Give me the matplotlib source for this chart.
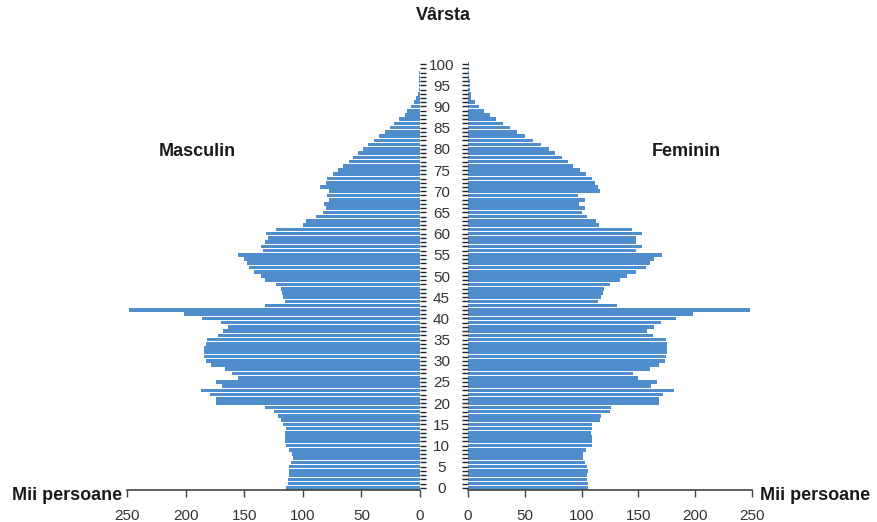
import matplotlib
matplotlib.use('Agg')
import matplotlib.pyplot as plt
from matplotlib import rcParams

# population by single year of age, thousands
ages = list(range(101))
male = [114, 113, 113, 112, 112, 112, 110, 108, 109, 112,
        114, 115, 115, 115, 114, 117, 119, 121, 125, 132,
        174, 174, 179, 187, 169, 174, 155, 160, 166, 178,
        183, 184, 184, 184, 183, 182, 172, 168, 164, 170,
        186, 201, 248, 132, 115, 117, 118, 119, 123, 132,
        136, 142, 146, 148, 150, 155, 134, 136, 132, 130,
        131, 123, 100, 97, 89, 83, 80, 82, 78, 79,
        78, 85, 80, 79, 74, 70, 66, 61, 57, 53,
        49, 44, 39, 35, 30, 26, 22, 18, 13, 11,
        8, 5, 3, 1.5, 1.2, 1.0, 0.8, 0.6, 0.5, 0.4, 0.3]
female = [106, 106, 105, 105, 106, 105, 103, 101, 101, 104,
          109, 109, 109, 108, 109, 109, 116, 117, 125, 126,
          168, 168, 172, 181, 161, 166, 150, 145, 160, 168,
          173, 174, 175, 175, 175, 174, 163, 158, 164, 170,
          183, 198, 248, 131, 114, 117, 119, 120, 125, 134,
          140, 148, 157, 160, 164, 171, 148, 153, 148, 148,
          153, 144, 115, 113, 105, 100, 103, 98, 103, 97,
          116, 114, 112, 109, 104, 99, 92, 88, 83, 77,
          71, 64, 57, 50, 43, 37, 31, 25, 19, 14,
          10, 6, 3, 2.5, 2.0, 1.8, 1.5, 1.2, 1.0, 0.8, 0.6]
age_ticks = list(range(0, 101, 5))
x_ticks = [0, 50, 100, 150, 200, 250]

BAR_COLOR = '#4f8dcc'
TEXT_COLOR = '#333333'
W, H = 878, 522


def setup():
    rcParams['font.family'] = ['Liberation Sans', 'DejaVu Sans']
    rcParams['axes.linewidth'] = 1.2


def style_axis(ax):
    for side in ['top', 'left', 'right']:
        ax.spines[side].set_visible(False)
    ax.spines['bottom'].set_color('#444444')
    ax.set_ylim(-0.5, 100.5)
    ax.set_xticks(x_ticks)
    ax.tick_params(axis='x', direction='out', length=5, width=1,
                   color='#444444', labelsize=11, labelcolor=TEXT_COLOR, pad=9)


def main():
    setup()
    fig = plt.figure(figsize=(W / 100, H / 100), dpi=100)
    bottom = (H - 490) / H
    height = (490 - 62) / H
    ax_l = fig.add_axes([127 / W, bottom, (420 - 127) / W, height])
    ax_r = fig.add_axes([468 / W, bottom, (752 - 468) / W, height])

    ax_l.barh(ages, male, height=0.85, color=BAR_COLOR, linewidth=0)
    ax_r.barh(ages, female, height=0.85, color=BAR_COLOR, linewidth=0)
    ax_l.set_xlim(250, 0)
    ax_r.set_xlim(0, 250)
    style_axis(ax_l)
    style_axis(ax_r)

    # small ticks for every year along both inner edges
    ax_l.yaxis.tick_right()
    ax_l.set_yticks(ages)
    ax_l.tick_params(axis='y', direction='out', length=4, width=1,
                     color='#222222', labelright=False)

    ax_r.set_yticks(ages, minor=True)
    ax_r.set_yticks(age_ticks)
    ax_r.set_yticklabels([str(a) for a in age_ticks])
    ax_r.tick_params(axis='y', which='both', direction='out', length=4,
                     width=1, color='#222222')
    ax_r.tick_params(axis='y', which='major', labelsize=11,
                     labelcolor=TEXT_COLOR, pad=15)
    for lab in ax_r.get_yticklabels():
        lab.set_horizontalalignment('center')

    bold = dict(fontsize=13, fontweight='bold', color='#1a1a1a', va='center')
    fig.text(443 / W, 1 - 15 / H, 'Vârsta', ha='center', **bold)
    fig.text(197 / W, 1 - 152 / H, 'Masculin', ha='center', **bold)
    fig.text(686 / W, 1 - 152 / H, 'Feminin', ha='center', **bold)
    fig.text(122 / W, 1 - 495 / H, 'Mii persoane', ha='right', **bold)
    fig.text(760 / W, 1 - 495 / H, 'Mii persoane', ha='left', **bold)

    fig.savefig('out.png', dpi=100)
    plt.close(fig)


if __name__ == '__main__':
    main()
